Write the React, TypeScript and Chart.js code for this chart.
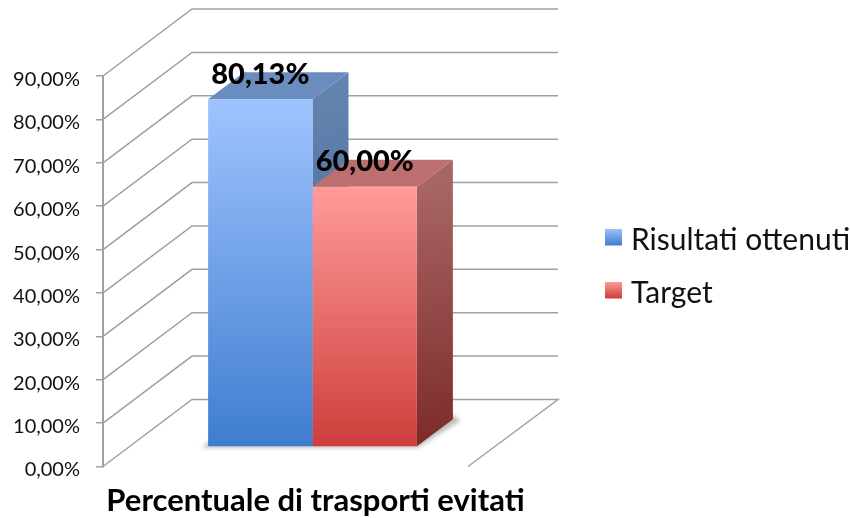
import React, { useEffect, useRef } from "react";
import { Chart, registerables } from "chart.js";

Chart.register(...registerables);

const categories = ["Percentuale di trasporti evitati"];
const seriesNames = ["Risultati ottenuti", "Target"];
const risultati = [80.13];
const target = [60.0];
const yTicks = { min: 0, max: 90, step: 10 };

const FONT = "Lato, Carlito, 'Open Sans', sans-serif";
const GRID = "#a0a0a0";
const INK = "#111111";

const palette = [
  { hi: "#9fc4ff", lo: "#3f7dcf", top: "#6b8cbf", sideHi: "#6283ae", sideLo: "#3e5f8f" },
  { hi: "#ff9b9a", lo: "#cd3e3b", top: "#bd6f6f", sideHi: "#a86565", sideLo: "#7c2a28" },
];

const pct = (v: number) => v.toFixed(2).replace(".", ",") + "%";

function swatch(i: number) {
  const c = document.createElement("canvas");
  c.width = 17;
  c.height = 23;
  const g = c.getContext("2d")!;
  const grad = g.createLinearGradient(0, 0, 0, 17);
  grad.addColorStop(0, palette[i].hi);
  grad.addColorStop(1, palette[i].lo);
  g.fillStyle = grad;
  g.fillRect(0, 0, 17, 17);
  return c;
}

// projection of the depth axis (wall) and of the bars inside the floor
const WALL = { dx: 89, dy: -67 };
const BAR_SHIFT = { dx: 27, dy: -19.5 };
const BAR_DEPTH = { dx: 36, dy: -27 };

const poly = (ctx: CanvasRenderingContext2D, pts: number[][]) => {
  ctx.beginPath();
  pts.forEach(([x, y], i) => (i ? ctx.lineTo(x, y) : ctx.moveTo(x, y)));
  ctx.closePath();
  ctx.fill();
};

const threeD = {
  id: "threeD",
  afterLayout(chart: any) {
    const l = chart.legend;
    if (l) {
      l.left = 588;
      l.right = 850;
      l.top = 202;
      l.bottom = 400;
      l.width = 262;
      l.height = 198;
    }
  },
  beforeDatasetsDraw(chart: any) {
    const { ctx, chartArea: a, scales } = chart;
    const y = scales.y;
    ctx.save();
    ctx.strokeStyle = GRID;
    ctx.lineWidth = 1.5;
    y.ticks.forEach((t: any) => {
      const py = y.getPixelForValue(t.value);
      ctx.beginPath();
      ctx.moveTo(a.left, py);
      ctx.lineTo(a.left + WALL.dx, py + WALL.dy);
      ctx.lineTo(a.right + WALL.dx + 1, py + WALL.dy);
      if (t.value === y.min) ctx.lineTo(a.right, py);
      ctx.stroke();
    });
    ctx.restore();

    const rects: any[] = [];
    chart.data.datasets.forEach((_: any, i: number) => {
      chart.getDatasetMeta(i).data.forEach((el: any) => {
        const p = el.getProps(["x", "y", "base", "width"], true);
        rects.push({
          i,
          l: p.x - p.width / 2 + BAR_SHIFT.dx,
          r: p.x + p.width / 2 + BAR_SHIFT.dx,
          t: p.y + BAR_SHIFT.dy,
          b: p.base + BAR_SHIFT.dy,
        });
      });
    });

    // floor shadow
    ctx.save();
    ctx.filter = "blur(2px)";
    ctx.fillStyle = "#bdbdbd";
    const first = rects[0];
    const last = rects[rects.length - 1];
    poly(ctx, [
      [first.l - 7, last.b + 1.5],
      [last.r + 1, last.b + 1.5],
      [last.r + BAR_DEPTH.dx + 8, last.b + BAR_DEPTH.dy + 1],
      [last.r + BAR_DEPTH.dx, last.b + BAR_DEPTH.dy - 4],
      [first.l, last.b - 4],
    ]);
    ctx.restore();

    const dx = BAR_DEPTH.dx;
    const dy = BAR_DEPTH.dy;
    rects.forEach((r) => {
      const c = palette[r.i];
      const side = ctx.createLinearGradient(r.r, r.t, r.r + dx, r.b);
      side.addColorStop(0, c.sideHi);
      side.addColorStop(1, c.sideLo);
      ctx.fillStyle = side;
      poly(ctx, [
        [r.r, r.t],
        [r.r + dx, r.t + dy],
        [r.r + dx, r.b + dy],
        [r.r, r.b],
      ]);
      ctx.fillStyle = c.top;
      poly(ctx, [
        [r.l, r.t],
        [r.l + dx, r.t + dy],
        [r.r + dx, r.t + dy],
        [r.r, r.t],
      ]);
    });

    // fronts are drawn by the chart itself, moved into the floor
    ctx.save();
    ctx.translate(BAR_SHIFT.dx, BAR_SHIFT.dy);
  },
  afterDatasetsDraw(chart: any) {
    const { ctx } = chart;
    ctx.restore();
    ctx.save();
    ctx.font = `900 29px ${FONT}`;
    ctx.fillStyle = "#000";
    ctx.textAlign = "center";
    ctx.textBaseline = "middle";
    chart.data.datasets.forEach((d: any, i: number) => {
      chart.getDatasetMeta(i).data.forEach((el: any, j: number) => {
        ctx.fillText(pct(d.data[j]), el.x + BAR_SHIFT.dx, el.y + BAR_SHIFT.dy - 25);
      });
    });
    ctx.restore();
  },
};

const frontFill = (i: number) => (c: any) => {
  const a = c.chart.chartArea;
  if (!a) return palette[i].hi;
  const el = c.chart.scales.y;
  const g = c.chart.ctx.createLinearGradient(0, el.getPixelForValue(c.dataset.data[0]), 0, el.getPixelForValue(0));
  g.addColorStop(0, palette[i].hi);
  g.addColorStop(1, palette[i].lo);
  return g;
};

export default function App() {
  const ref = useRef<HTMLCanvasElement>(null);
  useEffect(() => {
    const chart = new Chart(ref.current!, {
      type: "bar",
      data: {
        labels: categories,
        datasets: [
          { label: seriesNames[0], data: risultati, backgroundColor: frontFill(0) as any },
          { label: seriesNames[1], data: target, backgroundColor: frontFill(1) as any },
        ],
      },
      plugins: [threeD as any],
      options: {
        animation: false,
        responsive: false,
        layout: { padding: { left: 0, top: 76, right: 382, bottom: 0 } },
        datasets: { bar: { barPercentage: 1, categoryPercentage: 0.572 } },
        plugins: {
          tooltip: { enabled: false },
          title: { display: false },
          legend: {
            position: "chartArea" as any,
            align: "start",
            labels: {
              usePointStyle: true,
              pointStyleWidth: 5,
              padding: 23,
              color: INK,
              font: { family: FONT, size: 30, lineHeight: 1.2 },
              generateLabels: (c: any) =>
                c.data.datasets.map((d: any, i: number) => ({
                  text: d.label,
                  pointStyle: swatch(i),
                  datasetIndex: i,
                  fontColor: INK,
                  lineWidth: 0,
                  hidden: false,
                })),
            },
          },
        },
        scales: {
          x: {
            grid: { display: false },
            border: { display: false },
            afterFit: (s: any) => {
              s.height = 51.5;
              s.paddingLeft = 0;
              s.paddingRight = 0;
            },
            ticks: {
              autoSkip: false,
              maxRotation: 0,
              minRotation: 0,
              labelOffset: 30,
              padding: 7.5,
              color: "#000",
              font: { family: FONT, size: 31, weight: "bold" },
            },
          },
          y: {
            min: yTicks.min,
            max: yTicks.max,
            afterFit: (s: any) => {
              s.width = 103;
            },
            grid: { drawOnChartArea: false, color: GRID, lineWidth: 1.5, tickLength: 7 },
            border: { color: GRID, width: 2 },
            ticks: {
              stepSize: yTicks.step,
              padding: 16,
              labelOffset: 3.5,
              color: INK,
              font: { family: FONT, size: 20 },
              callback: (v: any) => pct(Number(v)),
            },
          },
        },
      },
    });
    return () => chart.destroy();
  }, []);
  return (
    <div style={{ position: "fixed", left: 0, top: 0, width: 850, height: 518 }}>
      <canvas ref={ref} width={850} height={518} style={{ display: "block", filter: "blur(0.4px)" }} />
    </div>
  );
}
